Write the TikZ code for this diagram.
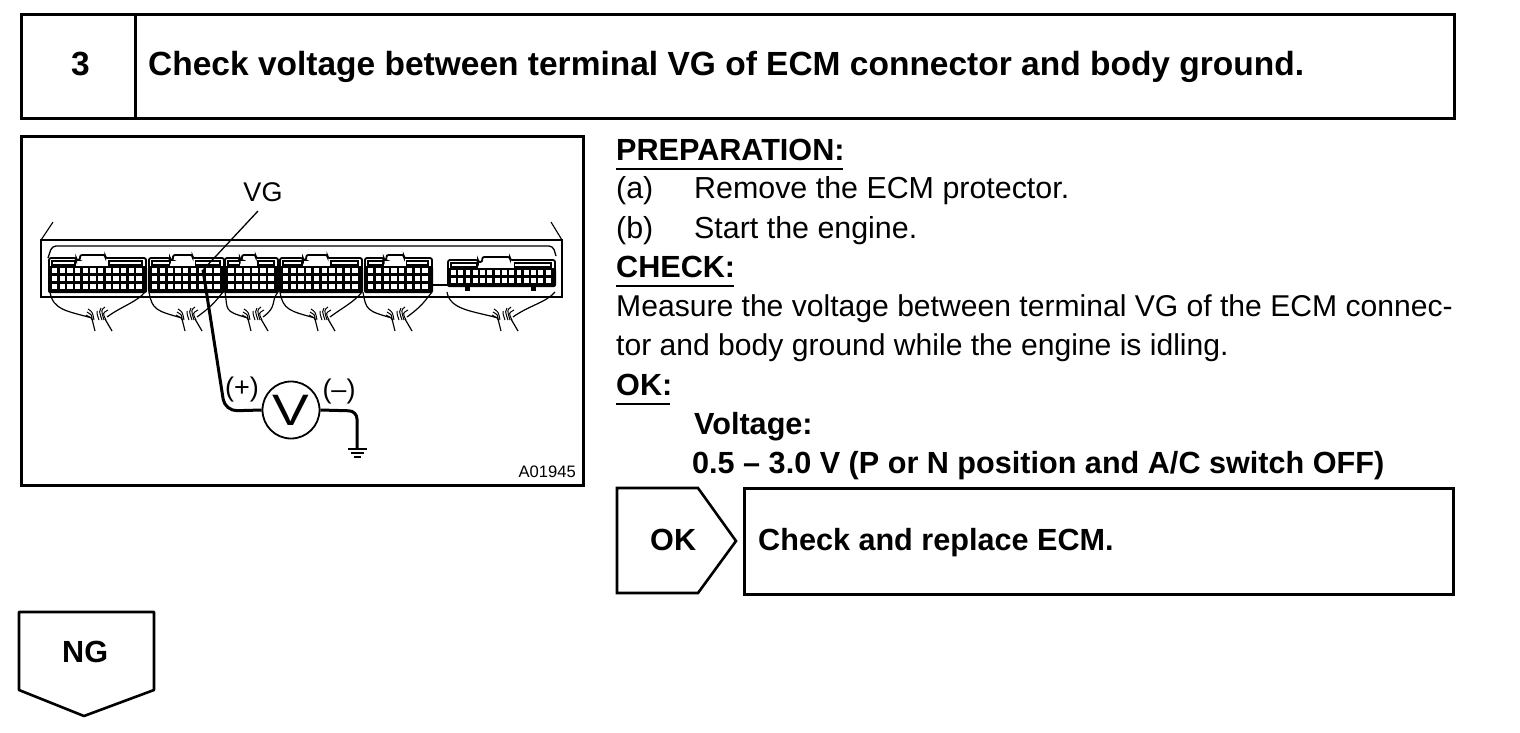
\documentclass[tikz,border=0pt]{standalone}
\usepackage{fontspec}
\setmainfont{Liberation Sans}
\newcommand{\fsz}[1]{\fontsize{#1}{#1}\selectfont}
\tikzset{
  x=1pt,y=-1pt,
  frame/.style={draw=black,line width=3pt,fill=white,outer sep=0pt,inner sep=0pt,anchor=north west},
  hd/.style={anchor=base west,inner sep=0pt,font=\fsz{33.5}\bfseries},
  bd/.style={anchor=base west,inner sep=0pt,font=\fsz{30.6}\bfseries},
  tx/.style={anchor=base west,inner sep=0pt,font=\fsz{30.4}},
  txlong/.style={anchor=base west,inner sep=0pt,font=\fsz{30.1}},
  ul/.style={line width=1.4pt},
  wire/.style={line width=3pt,line join=round}
}
% x-left, width, columns, top of body, rows
\newcommand{\conn}[5]{%
  \fill[black,rounded corners=2pt] (#1-1,#4+8) rectangle (#1+#2+1,#4+11+#5*8);
  \draw[line width=1.8pt,rounded corners=2pt] (#1,#4+10) -- (#1,#4) -- (#1+#2*0.28,#4) -- (#1+#2*0.28,#4+2) -- (#1+#2*0.32,#4+2) -- (#1+#2*0.32,#4-3) -- (#1+#2*0.58,#4-3) -- (#1+#2*0.58,#4) -- (#1+#2,#4) -- (#1+#2,#4+10);
  \draw[line width=1.5pt] (#1+3,#4+3) rectangle (#1+#2*0.27,#4+7);
  \draw[line width=1.5pt] (#1+#2*0.62,#4+3) rectangle (#1+#2-4,#4+7);
  \pgfmathsetmacro{\cellw}{(#2-5)/#3}
  \pgfmathtruncatemacro{\rlast}{#5-1}
  \foreach \r in {0,...,\rlast}{
    \foreach \c in {1,...,#3}{
      \pgfmathsetmacro{\cx}{#1+3+(\c-1)*\cellw}
      \pgfmathsetmacro{\cy}{#4+10+\r*8}
      \fill[white] (\cx,\cy) rectangle (\cx+\cellw-2.4,\cy+5.4);
    }
  }
}
% left, centre, right, bottom y
\newcommand{\harn}[4]{%
  \draw[line width=1.2pt] (#1,#4) .. controls (#1+3,#4+18) and (#2-30,#4+19) .. (#2-5,#4+26);
  \draw[line width=1.2pt] (#3,#4) .. controls (#3-8,#4+10) and (#2+25,#4+14) .. (#2+10,#4+25);
  \foreach \a/\b/\h in {-10/-5/20,-11/-4/23,-9/-3/17,0/2/19,4/5/16,8/7/15,11/9/18}{
    \draw[line width=1pt] (#2+\a,#4+\h) .. controls (#2+\a*0.5,#4+\h+3) .. (#2+\b,#4+28);
  }
  \draw[line width=1.2pt] (#2-5,#4+27) -- (#2-2,#4+39);
  \draw[line width=1.2pt] (#2+8,#4+27) -- (#2+15,#4+39);
}
\begin{document}
\begin{tikzpicture}
\useasboundingbox (0,0) rectangle (1520,732);
% title bar
\node[frame,minimum width=1433pt,minimum height=104pt] (title) at (21,14) {};
\coordinate (divT) at (135,14);
\coordinate (divB) at (135,118);
\draw[line width=3pt] (divT) -- (divB);
\node[hd] (num) at (71,75) {3};
\node[hd] (ttl) at (148,75) {Check voltage between terminal VG of ECM connector and body ground.};
% figure frame
\node[frame,minimum width=562pt,minimum height=349pt] (fig) at (21,136) {};
% ECU housing
\draw[line width=1.3pt] (41,240) rectangle (562,297);
\draw[line width=1.1pt] (41,240) -- (53,222);
\draw[line width=1.1pt] (562,240) -- (551,222);
\draw[line width=1.3pt,rounded corners=4pt] (48,258) -- (52,246) -- (553,246) -- (556,256);
\conn{49}{97}{12}{258}{3}
\conn{149}{75}{9}{258}{3}
\conn{225}{53}{6}{258}{3}
\conn{280}{82}{10}{258}{3}
\conn{365}{67}{8}{258}{3}
\draw[line width=1.3pt] (432,285) -- (448,285);
\conn{448}{107}{14}{260}{2}
\fill[black] (465,285) rectangle (470,291);
\fill[black] (531,285) rectangle (536,291);
\harn{50}{97}{145}{292}
\harn{149}{187}{223}{292}
\harn{225}{253}{278}{292}
\harn{280}{320}{362}{292}
\harn{363}{397}{432}{292}
\harn{447}{503}{555}{292}
% probe and leader
\node[anchor=center,inner sep=0pt,font=\fsz{27}] (vg) at (263,192) {VG};
\coordinate (term) at (203,270);
\coordinate (lead) at (258,211);
\draw[line width=1.3pt] (lead) -- (term);
\node[circle,draw,line width=1.8pt,fill=white,minimum size=57pt,inner sep=0pt,font=\fsz{44}] (vm) at (291,410) {\scalebox{1.25}[1]{V}};
\coordinate (bendA) at (225,411);
\coordinate (bendB) at (357,411);
\coordinate (gnd) at (357,448);
\draw[wire,rounded corners=12pt] (term) -- (bendA) -- (vm.west);
\draw[wire,rounded corners=8pt] (vm.east) -- (bendB) -- (gnd);
\draw[line width=1.8pt] (348,449) -- (367,449);
\draw[line width=1.8pt] (351,453) -- (364,453);
\draw[line width=1.8pt] (354,457) -- (361,457);
\node[inner sep=0pt,font=\fsz{27}] (plus) at (242,390) {(+)};
\node[inner sep=0pt,font=\fsz{27}] (minus) at (339,392) {(–)};
\node[anchor=base east,inner sep=0pt,font=\fsz{16.6}] (code) at (576,477) {A01945};
% text
\node[bd] (prep) at (616,160) {PREPARATION:};
\draw[ul] (prep.base west)++(0,9) -- ++(227,0);
\node[tx] (a) at (616,198) {(a)};
\node[tx] (at) at (694,198) {Remove the ECM protector.};
\node[tx] (b) at (616,238) {(b)};
\node[tx] (bt) at (694,238) {Start the engine.};
\node[bd] (chk) at (616,277) {CHECK:};
\draw[ul] (chk.base west)++(0,9) -- ++(118,0);
\node[txlong] (m1) at (616,316) {Measure the voltage between terminal VG of the ECM connec-};
\node[txlong] (m2) at (616,355) {tor and body ground while the engine is idling.};
\node[bd] (ok) at (616,395) {OK:};
\draw[ul] (ok.base west)++(0,9) -- ++(54,0);
\node[bd] (v1) at (694,434) {Voltage:};
\node[bd] (v2) at (692,473) {0.5 – 3.0 V (P or N position and A/C switch OFF)};
% OK flag and box
\draw[line width=2.6pt,line join=miter] (617,488) -- (698,488) -- (736,541) -- (698,593) -- (617,593) -- cycle;
\node[bd] (oklab) at (650,550) {OK};
\node[frame,minimum width=709pt,minimum height=106pt] (res) at (744,488) {};
\node[bd] (rest) at (758,550) {Check and replace ECM.};
% NG flag
\draw[line width=2.6pt,line join=round] (19,612) -- (154,612) -- (154,690) -- (84,716) -- (19,690) -- cycle;
\node[bd] (ng) at (62,662) {NG};
\end{tikzpicture}
\end{document}
